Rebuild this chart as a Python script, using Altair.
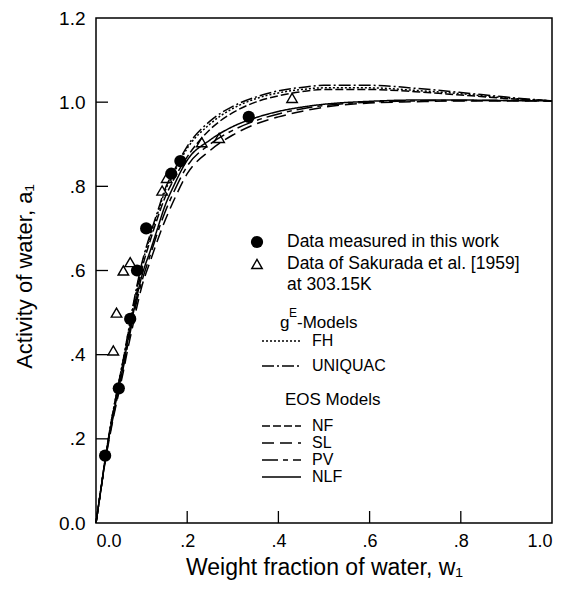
import altair as alt
import pandas as pd

FONT = "Liberation Sans"

# Model curves: weight fraction of water (x) and activity of water (y)
W = [0, 0.01, 0.02, 0.03, 0.04, 0.05, 0.06, 0.07, 0.08, 0.09, 0.10, 0.12, 0.135, 0.15,
     0.17, 0.20, 0.25, 0.30, 0.35, 0.40, 0.45, 0.50, 0.60, 0.70, 0.80, 0.90, 1.00]
FH = [0, 0.075, 0.15, 0.22, 0.28, 0.335, 0.39, 0.448, 0.505, 0.56, 0.61, 0.685, 0.735, 0.785,
      0.83, 0.89, 0.948, 0.985, 1.008, 1.022, 1.03, 1.034, 1.034, 1.028, 1.02, 1.01, 1.003]
UNIQUAC = [0, 0.075, 0.15, 0.22, 0.28, 0.335, 0.39, 0.45, 0.51, 0.565, 0.615, 0.69, 0.74, 0.79,
           0.835, 0.895, 0.955, 0.99, 1.012, 1.027, 1.035, 1.04, 1.04, 1.033, 1.023, 1.012, 1.003]
NF = [0, 0.074, 0.148, 0.215, 0.275, 0.33, 0.385, 0.44, 0.495, 0.55, 0.60, 0.675, 0.725, 0.77,
      0.815, 0.87, 0.935, 0.975, 1.0, 1.015, 1.025, 1.03, 1.03, 1.025, 1.017, 1.009, 1.003]
SL = [0, 0.073, 0.145, 0.205, 0.26, 0.31, 0.36, 0.415, 0.465, 0.515, 0.56, 0.625, 0.672, 0.715,
      0.765, 0.83, 0.885, 0.922, 0.948, 0.965, 0.978, 0.988, 0.998, 1.001, 1.003, 1.003, 1.003]
PV = [0, 0.074, 0.148, 0.21, 0.265, 0.315, 0.37, 0.425, 0.48, 0.53, 0.572, 0.64, 0.69, 0.735,
      0.785, 0.848, 0.90, 0.933, 0.956, 0.972, 0.984, 0.992, 1.0, 1.003, 1.004, 1.004, 1.003]
NLF = [0, 0.075, 0.15, 0.215, 0.27, 0.32, 0.375, 0.435, 0.49, 0.54, 0.585, 0.65, 0.70, 0.75,
       0.80, 0.862, 0.91, 0.942, 0.963, 0.978, 0.988, 0.995, 1.002, 1.005, 1.005, 1.004, 1.003]

MODELS = ["FH", "UNIQUAC", "NF", "SL", "PV", "NLF"]
DASHES = [[2, 2], [12, 3, 2, 3], [8, 3], [12, 6], [16, 5, 5, 5], [1, 0]]

# Measured data
THIS_W = [0.02, 0.05, 0.075, 0.09, 0.11, 0.165, 0.185, 0.335]
THIS_A = [0.16, 0.32, 0.485, 0.60, 0.70, 0.83, 0.86, 0.965]
SAK_W = [0.038, 0.045, 0.06, 0.075, 0.145, 0.155, 0.232, 0.27, 0.43]
SAK_A = [0.41, 0.50, 0.60, 0.62, 0.79, 0.82, 0.905, 0.915, 1.01]

X_TICKS = [0, 0.2, 0.4, 0.6, 0.8, 1.0]
Y_TICKS = [0, 0.2, 0.4, 0.6, 0.8, 1.0, 1.2]

PW, PH = 456, 505

rows = []
series = dict(FH=FH, UNIQUAC=UNIQUAC, NF=NF, SL=SL, PV=PV, NLF=NLF)
for m in MODELS:
    for w, a in zip(W, series[m]):
        rows.append({"model": m, "w": w, "a": a})
curves = pd.DataFrame(rows)

lab = ("datum.value > 0 && datum.value < 1 ? replace(format(datum.value, '.1f'), '0.', '.')"
       " : format(datum.value, '.1f')")

xs = alt.X("w:Q", scale=alt.Scale(domain=[0, 1], nice=False),
           axis=alt.Axis(values=X_TICKS, labelExpr=lab, title="Weight fraction of water, w\u2081",
                         titleY=51, titleBaseline="alphabetic", titleFontSize=23, labelPadding=9,
                         labelFontSize=18))
ys = alt.Y("a:Q", scale=alt.Scale(domain=[0, 1.2], nice=False),
           axis=alt.Axis(values=Y_TICKS, labelExpr=lab, title="Activity of water, a\u2081",
                         titleX=-72, titleY=258, titleBaseline="middle", titleFontSize=22,
                         labelPadding=11, labelFontSize=19))

lines = alt.Chart(curves).mark_line(color="black", strokeWidth=1.5, interpolate="monotone").encode(
    x=xs, y=ys,
    strokeDash=alt.StrokeDash("model:N", scale=alt.Scale(domain=MODELS, range=DASHES), legend=None),
    detail="model:N",
)

this_df = pd.DataFrame({"w": THIS_W, "a": THIS_A})
sak_df = pd.DataFrame({"w": SAK_W, "a": SAK_A})

tri = alt.Chart(sak_df).mark_point(shape="triangle-up", filled=False, size=110, color="black",
                                   strokeWidth=1.4, opacity=1).encode(x="w:Q", y="a:Q")
circ = alt.Chart(this_df).mark_point(shape="circle", filled=True, size=150, color="black",
                                     opacity=1).encode(x="w:Q", y="a:Q")

xt = pd.DataFrame({"w": X_TICKS[1:-1]})
yt = pd.DataFrame({"a": Y_TICKS[1:-1]})
xticks = alt.Chart(xt).mark_rule(color="black", strokeWidth=1.3).encode(
    x="w:Q", y=alt.value(PH), y2=alt.value(PH - 12))
yticks = alt.Chart(yt).mark_rule(color="black", strokeWidth=1.3).encode(
    y="a:Q", x=alt.value(0), x2=alt.value(12))

one = alt.Data(values=[{"k": 1}])


def txt(s, x, y, size=17):
    return alt.Chart(one).mark_text(text=s, align="left", baseline="middle", fontSize=size,
                                    font=FONT, color="black").encode(x=alt.value(x), y=alt.value(y))


def seg(dash, y):
    return alt.Chart(one).mark_rule(color="black", strokeWidth=1.4, strokeDash=dash).encode(
        x=alt.value(166), x2=alt.value(205), y=alt.value(y))


legend = [
    alt.Chart(one).mark_point(shape="circle", filled=True, size=150, color="black", opacity=1).encode(
        x=alt.value(161), y=alt.value(224)),
    txt("Data measured in this work", 191, 224, 17.5),
    alt.Chart(one).mark_point(shape="triangle-up", filled=False, size=110, color="black",
                              strokeWidth=1.4, opacity=1).encode(x=alt.value(161), y=alt.value(246)),
    txt("Data of Sakurada et al. [1959]", 191, 246, 17.5),
    txt("at 303.15K", 191, 267, 17.5),
    txt("g", 184, 305),
    txt("E", 193, 295, 12),
    txt("-Models", 201, 305),
    txt("EOS Models", 189, 382),
]
leg_rows = [("FH", 323), ("UNIQUAC", 348), ("NF", 408), ("SL", 425), ("PV", 442), ("NLF", 459)]
for name, yy in leg_rows:
    legend.append(seg(DASHES[MODELS.index(name)], yy))
    legend.append(txt(name, 216, yy, 16))

chart = alt.layer(lines, tri, circ, xticks, yticks, *legend).properties(
    width=PW, height=PH,
    autosize=alt.AutoSizeParams(type="none"),
    padding={"left": 88, "top": 10, "right": 20, "bottom": 61},
    background="white",
).configure_view(stroke="black", strokeWidth=1.5).configure_axis(
    grid=False, domain=False, ticks=False,
    labelFont=FONT, labelColor="black",
    titleFont=FONT, titleFontWeight="normal", titleColor="black",
)

chart.save("out.html", embed_options={"renderer": "svg", "actions": False})
